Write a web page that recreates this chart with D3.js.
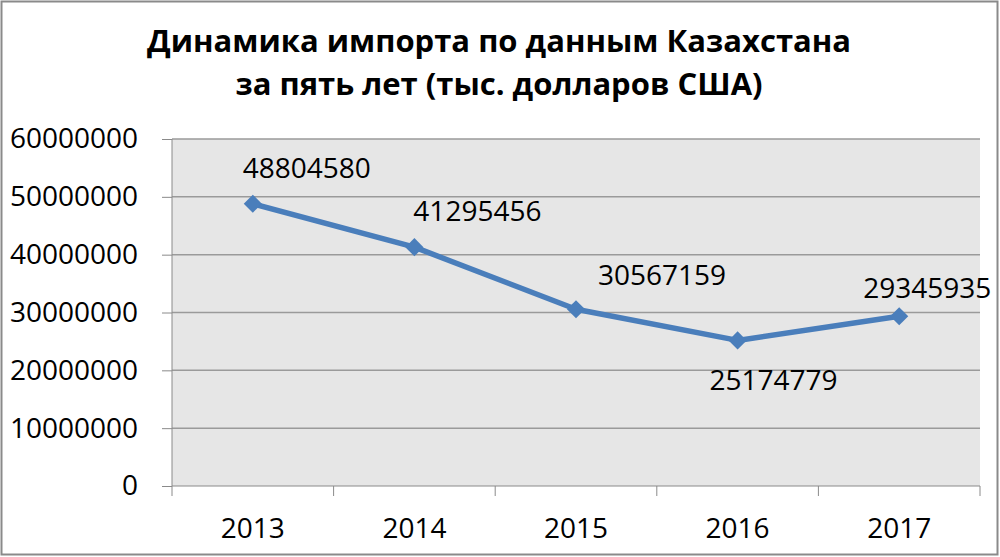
<!DOCTYPE html>
<html>
<head>
<meta charset="utf-8">
<script src="https://cdn.jsdelivr.net/npm/d3@7"></script>
<style>
  body { margin: 0; background: #fff; }
  svg { display: block; }
</style>
</head>
<body>
<script>
// chart data
var years = ["2013", "2014", "2015", "2016", "2017"];
var imports = [48804580, 41295456, 30567159, 25174779, 29345935];
var yTicks = [0, 10000000, 20000000, 30000000, 40000000, 50000000, 60000000];
var titleLines = ["Динамика импорта по данным Казахстана", "за пять лет (тыс. долларов США)"];

// label placement relative to each point (dx, dy in px)
var labelOffsets = [[54, -26], [63, -26], [86, -24], [36, 50], [28, -18]];

var W = 1000, H = 557;
var margin = {top: 139, right: 20, bottom: 71, left: 172},
    width = W - margin.left - margin.right,
    height = H - margin.top - margin.bottom;

var svg = d3.select("body").append("svg")
    .attr("width", W)
    .attr("height", H);

// outer frame
svg.append("rect")
    .attr("x", 1.5).attr("y", 1.5)
    .attr("width", W - 4).attr("height", H - 4)
    .attr("fill", "#fff")
    .attr("stroke", "#8a8a8a")
    .attr("stroke-width", 2);

// title
svg.append("g").selectAll("text")
    .data(titleLines)
  .enter().append("text")
    .attr("x", 499)
    .attr("y", function(d, i) { return 52 + i * 43; })
    .attr("text-anchor", "middle")
    .style("font-family", "'Open Sans', sans-serif")
    .style("font-weight", "700")
    .style("font-size", "31px")
    .text(function(d) { return d; });

var g = svg.append("g")
    .attr("transform", "translate(" + margin.left + "," + margin.top + ")");

// scales
var x = d3.scaleBand().domain(years).range([0, width]);
var y = d3.scaleLinear().domain([0, 60000000]).range([height, 0]);

// plot background
g.append("rect")
    .attr("width", width)
    .attr("height", height)
    .attr("fill", "#e6e6e6");

// gridlines
g.selectAll(".grid")
    .data(yTicks.slice(1))
  .enter().append("line")
    .attr("x1", 0).attr("x2", width)
    .attr("y1", function(d) { return y(d); })
    .attr("y2", function(d) { return y(d); })
    .attr("stroke", "#9a9a9a")
    .attr("stroke-width", 1.5);

// Y axis
var yAxis = g.append("g")
    .call(d3.axisLeft(y).tickValues(yTicks).tickFormat(d3.format("d")).tickSize(10).tickPadding(24));
yAxis.select(".domain").attr("stroke", "#8a8a8a").attr("d", "M0," + height + "V0");
yAxis.selectAll(".tick line").attr("stroke", "#8a8a8a");
yAxis.selectAll("text")
    .style("font-family", "'Open Sans', sans-serif")
    .style("font-size", "28px")
    .attr("fill", "#000");

// X axis
var xAxis = g.append("g")
    .attr("transform", "translate(0," + height + ")")
    .call(d3.axisBottom(x).tickSize(0).tickPadding(32));
xAxis.select(".domain").attr("stroke", "#8a8a8a").attr("d", "M0,0H" + width);
xAxis.selectAll("text")
    .style("font-family", "'Open Sans', sans-serif")
    .style("font-size", "28px")
    .attr("fill", "#000");
// category separators
xAxis.selectAll(".sep")
    .data(years.concat(["end"]))
  .enter().append("line")
    .attr("x1", function(d, i) { return i < years.length ? x(d) : width; })
    .attr("x2", function(d, i) { return i < years.length ? x(d) : width; })
    .attr("y1", 0).attr("y2", 10)
    .attr("stroke", "#8a8a8a");

// line
var pts = years.map(function(d, i) { return {year: d, value: imports[i], i: i}; });
var valueline = d3.line()
    .x(function(d) { return x(d.year) + x.bandwidth() / 2; })
    .y(function(d) { return y(d.value); });

g.append("path")
    .datum(pts)
    .attr("fill", "none")
    .attr("stroke", "#4a7ebb")
    .attr("stroke-width", 5.5)
    .attr("stroke-linejoin", "round")
    .attr("d", valueline);

// diamond markers
g.selectAll(".marker")
    .data(pts)
  .enter().append("path")
    .attr("d", d3.symbol().type(d3.symbolDiamond2).size(210))
    .attr("transform", function(d) {
      return "translate(" + (x(d.year) + x.bandwidth() / 2) + "," + y(d.value) + ")";
    })
    .attr("fill", "#4a7ebb");

// data labels
g.selectAll(".label")
    .data(pts)
  .enter().append("text")
    .attr("x", function(d) { return x(d.year) + x.bandwidth() / 2 + labelOffsets[d.i][0]; })
    .attr("y", function(d) { return y(d.value) + labelOffsets[d.i][1]; })
    .attr("text-anchor", "middle")
    .style("font-family", "'Open Sans', sans-serif")
    .style("font-size", "28px")
    .text(function(d) { return d.value; });
</script>
</body>
</html>
